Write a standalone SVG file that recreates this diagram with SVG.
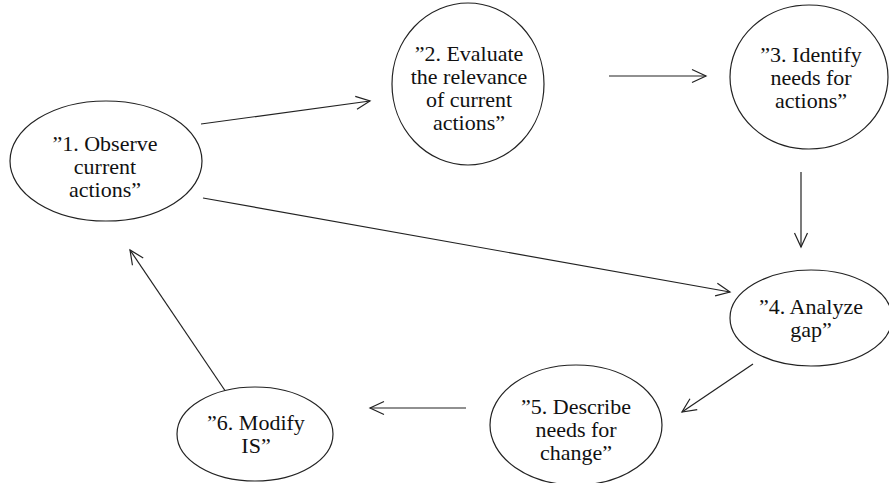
<svg xmlns="http://www.w3.org/2000/svg" width="889" height="483" viewBox="0 0 889 483">
<defs>
<marker id="arr" viewBox="-16 -8 18 16" refX="0" refY="0" markerWidth="18" markerHeight="16" markerUnits="userSpaceOnUse" orient="auto">
<path d="M-14,-6.5 L0,0 L-14,6.5" fill="none" stroke="#222" stroke-width="1.2"/>
</marker>
<style>
.n ellipse{fill:#fff;stroke:#222;stroke-width:1.2}
.n text{font-size:22px;fill:#111;text-anchor:middle}
.c line{stroke:#222;stroke-width:1.2;marker-end:url(#arr)}
</style>
</defs>
<rect width="889" height="483" fill="#fff"/>
<g class="c" id="connectors">
<line x1="201" y1="124" x2="370" y2="101"/>
<line x1="609" y1="76" x2="706" y2="76"/>
<line x1="801" y1="172" x2="801" y2="247"/>
<line x1="203" y1="198" x2="730" y2="292"/>
<line x1="753" y1="364" x2="682" y2="412"/>
<line x1="466" y1="408" x2="370" y2="408"/>
<line x1="228" y1="395" x2="130" y2="250"/>
</g>
<g font-family="'Liberation Serif', 'DejaVu Serif', serif">
<g class="n" id="n1">
<ellipse cx="106" cy="161" rx="96" ry="60"/>
<text x="105" y="151">”1. Observe</text>
<text x="105" y="174">current</text>
<text x="105" y="197">actions”</text>
</g>
<g class="n" id="n2">
<ellipse cx="468" cy="84" rx="76" ry="81"/>
<text x="469" y="61">”2. Evaluate</text>
<text x="469" y="84">the relevance</text>
<text x="469" y="107">of current</text>
<text x="469" y="130">actions”</text>
</g>
<g class="n" id="n3">
<ellipse cx="809" cy="77" rx="79" ry="72"/>
<text x="811" y="62">”3. Identify</text>
<text x="811" y="85">needs for</text>
<text x="811" y="108">actions”</text>
</g>
<g class="n" id="n4">
<ellipse cx="811" cy="318" rx="81" ry="48"/>
<text x="811" y="314">”4. Analyze</text>
<text x="811" y="337">gap”</text>
</g>
<g class="n" id="n5">
<ellipse cx="576" cy="425" rx="86" ry="60"/>
<text x="576" y="414">”5. Describe</text>
<text x="576" y="437">needs for</text>
<text x="576" y="460">change”</text>
</g>
<g class="n" id="n6">
<ellipse cx="255" cy="434" rx="78" ry="47"/>
<text x="256" y="430">”6. Modify</text>
<text x="256" y="453">IS”</text>
</g>
</g>
</svg>
